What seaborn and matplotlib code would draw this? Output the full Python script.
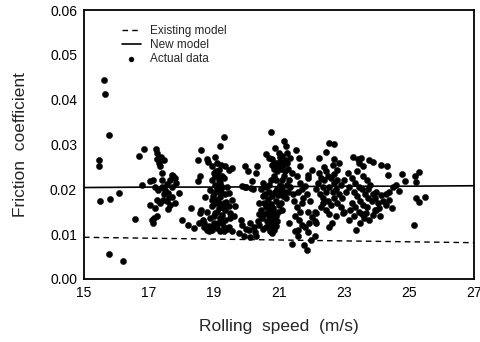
import matplotlib
matplotlib.use("Agg")
import matplotlib.pyplot as plt
import seaborn as sns
import pandas as pd

# ---- model lines ----
model_speed = [15, 17, 19, 21, 23, 25, 27]
existing_model = [0.0093, 0.0091, 0.0089, 0.0087, 0.0085, 0.0083, 0.0081]
new_model = [0.0204, 0.0205, 0.0205, 0.0206, 0.0207, 0.0207, 0.0208]

# ---- actual data (speed m/s, friction coefficient) ----
pts_a = [(15.62,0.0444),(15.64,0.0413),(15.76,0.0322),(15.46,0.0266),(15.45,0.0251),(15.49,0.0175),
         (15.79,0.0178),(16.07,0.0192),(15.76,0.0056),(16.19,0.0041),(16.57,0.0134),(16.68,0.0275),
         (16.85,0.0289),(16.77,0.0210)]
pts_b = [(17.23,0.0290),(17.26,0.0280),(17.26,0.0267),(17.30,0.0258),(17.34,0.0251),(17.39,0.0236),
         (17.41,0.0221),(17.03,0.0218),(17.13,0.0221),(17.19,0.0206),(17.29,0.0199),(17.39,0.0206),
         (17.49,0.0199),(17.60,0.0192),(17.65,0.0221),(17.70,0.0232),(17.75,0.0229),(17.70,0.0184),
         (17.03,0.0166),(17.19,0.0158),(17.24,0.0177),(17.34,0.0169),(17.44,0.0177),(17.55,0.0173),
         (17.65,0.0166),(17.08,0.0132),(17.13,0.0125),(17.26,0.0140),(17.58,0.0156),(17.80,0.0169),
         (17.91,0.0192),(18.01,0.0132),(18.21,0.0121),(18.30,0.0158),(18.38,0.0114),(17.47,0.0266),
         (17.70,0.0206),(17.36,0.0272),(17.80,0.0225),(17.82,0.0215),(17.55,0.0212),(17.45,0.0190),
         (17.15,0.0135),(17.62,0.0182)]
pts_c = [(18.50,0.0218),(18.58,0.0230),(18.61,0.0288),(18.50,0.0266),(18.78,0.0267),(18.83,0.0262),
         (18.73,0.0184),(18.61,0.0154),(18.65,0.0132),(18.53,0.0125),(18.68,0.0117),(18.78,0.0110),
         (18.58,0.0147),(18.94,0.0251),(18.99,0.0236),(19.04,0.0273),(19.09,0.0258),(19.14,0.0244),
         (18.94,0.0221),(19.04,0.0210),(19.14,0.0221),(19.25,0.0206),(18.89,0.0199),(18.99,0.0192),
         (19.09,0.0177),(19.20,0.0184),(19.30,0.0169),(18.94,0.0162),(19.04,0.0147),(19.14,0.0158),
         (19.25,0.0143),(19.35,0.0154),(18.89,0.0136),(18.99,0.0125),(19.09,0.0114),(19.20,0.0106),
         (18.94,0.0110),(19.30,0.0117),(18.84,0.0106),(19.35,0.0251),(19.45,0.0244),(19.56,0.0247),
         (19.20,0.0296),(19.32,0.0316),(19.40,0.0206),(19.45,0.0192),(19.56,0.0177),(19.66,0.0162),
         (19.50,0.0147),(19.35,0.0132),(19.45,0.0117),(19.14,0.0195),(19.04,0.0169),(18.94,0.0177),
         (19.25,0.0229),(19.02,0.0229),(19.45,0.0162),(19.61,0.0140),(19.56,0.0106),(19.05,0.0240),
         (19.12,0.0232),(19.18,0.0215),(19.08,0.0200),(19.22,0.0195),(19.15,0.0170),(19.28,0.0160),
         (19.10,0.0150),(19.20,0.0135),(19.00,0.0140),(19.12,0.0125),(19.25,0.0125),(19.05,0.0118),
         (19.30,0.0108),(18.98,0.0185),(19.35,0.0190),(18.80,0.0150),(18.70,0.0125),(18.85,0.0118),
         (19.40,0.0112),(18.92,0.0113),(19.22,0.0255),(19.30,0.0225),(19.38,0.0172),(19.48,0.0135)]
pts_gap = [(19.95,0.0251),(20.00,0.0206),(20.16,0.0218),(19.82,0.0132),(19.76,0.0102),(19.92,0.0095),
           (20.12,0.0094),(20.07,0.0110),(20.23,0.0117),(20.33,0.0251),(20.30,0.0236),(20.05,0.0240),
           (19.85,0.0120),(20.20,0.0200),(20.25,0.0105),(20.35,0.0130),(20.40,0.0145),(20.10,0.0125),
           (19.98,0.0112),(20.30,0.0095),(19.85,0.0208),(19.95,0.0205),(20.15,0.0204)]
pts_d = [(20.76,0.0327),(21.15,0.0307),(21.22,0.0296),(20.89,0.0292),(21.00,0.0280),(20.59,0.0278),
         (20.69,0.0270),(20.79,0.0267),(20.89,0.0258),(20.94,0.0251),(21.04,0.0273),(21.15,0.0266),
         (21.25,0.0258),(21.35,0.0270),(21.51,0.0288),(21.61,0.0270),(21.66,0.0251),(21.56,0.0229),
         (21.40,0.0236),(20.45,0.0200),(20.50,0.0185),(20.55,0.0170),(20.60,0.0160),(20.65,0.0150),
         (20.70,0.0140),(20.75,0.0130),(20.80,0.0120),(20.85,0.0110),(20.50,0.0215),(20.60,0.0205),
         (20.70,0.0195),(20.80,0.0185),(20.90,0.0175),(21.00,0.0165),(21.10,0.0155),(20.55,0.0145),
         (20.62,0.0130),(20.68,0.0118),(20.72,0.0108),(20.78,0.0102),(20.85,0.0125),(20.92,0.0140),
         (20.98,0.0150),(21.05,0.0170),(21.12,0.0185),(21.18,0.0195),(21.25,0.0210),(21.30,0.0220),
         (20.40,0.0170),(20.45,0.0155),(20.48,0.0135),(20.40,0.0120),(20.52,0.0112),(20.58,0.0190),
         (20.65,0.0178),(20.75,0.0168),(20.82,0.0158),(20.88,0.0148),(20.95,0.0200),(21.02,0.0210),
         (21.08,0.0220),(21.15,0.0230),(21.20,0.0240),(20.68,0.0210),(20.75,0.0220),(20.85,0.0230),
         (20.92,0.0220),(20.98,0.0188),(21.05,0.0195),(20.72,0.0155),(20.63,0.0165),(20.78,0.0145),
         (20.88,0.0195),(21.10,0.0205),(21.22,0.0180),(21.28,0.0195),(21.35,0.0205),(20.95,0.0130),
         (20.85,0.0135),(20.70,0.0125),(20.60,0.0115),(20.80,0.0110),(20.90,0.0118),(20.85,0.0245),
         (20.95,0.0240),(21.05,0.0245),(21.12,0.0255),(21.20,0.0265),(20.80,0.0255),(21.00,0.0260),
         (21.10,0.0275),(21.28,0.0245),(21.25,0.0280)]
pts_d2 = [(21.41,0.0079),(21.85,0.0065),(21.78,0.0076),(21.58,0.0095),(21.48,0.0106),(21.32,0.0125),
          (21.50,0.0140),(21.62,0.0132),(21.93,0.0125),(22.03,0.0139),(22.10,0.0150),(21.98,0.0088),
          (21.55,0.0160),(21.70,0.0170),(21.65,0.0150),(21.80,0.0115),(21.75,0.0180),(21.88,0.0150),
          (21.45,0.0175),(21.42,0.0190),(21.60,0.0195),(21.70,0.0200),(21.85,0.0190),(21.95,0.0175),
          (22.10,0.0095),(22.15,0.0125),(21.90,0.0105),(21.70,0.0120),(21.60,0.0110),(21.65,0.0215),
          (21.90,0.0225),(21.80,0.0208)]
pts_e = [(22.55,0.0303),(22.68,0.0301),(22.44,0.0284),(22.24,0.0270),(22.70,0.0267),(22.03,0.0244),
         (21.88,0.0232),(22.24,0.0236),(22.45,0.0240),(22.65,0.0255),(22.86,0.0258),(22.80,0.0244),
         (23.27,0.0273),(23.42,0.0267),(23.53,0.0270),(23.47,0.0258),(23.58,0.0251),(23.78,0.0266),
         (23.89,0.0262),(23.11,0.0236),(23.16,0.0206),(23.16,0.0132),(23.37,0.0110),(22.96,0.0147),
         (22.75,0.0140),(22.55,0.0117),(22.62,0.0125),(22.34,0.0169),(22.13,0.0147),(22.10,0.0130),
         (23.68,0.0147),(23.89,0.0143),(23.78,0.0132),(24.00,0.0154),(22.20,0.0215),(22.30,0.0225),
         (22.40,0.0220),(22.50,0.0230),(22.60,0.0225),(22.70,0.0215),(22.80,0.0220),(22.90,0.0210),
         (22.35,0.0205),(22.45,0.0195),(22.55,0.0205),(22.65,0.0195),(22.75,0.0200),(22.85,0.0190),
         (22.25,0.0190),(22.35,0.0180),(22.50,0.0175),(22.60,0.0165),(22.70,0.0180),(22.80,0.0170),
         (22.95,0.0180),(23.05,0.0195),(23.00,0.0220),(22.15,0.0200),(22.30,0.0160),(22.45,0.0155),
         (22.90,0.0160),(23.00,0.0150),(22.55,0.0145),(22.68,0.0235),(22.40,0.0250),(23.25,0.0225),
         (23.35,0.0215),(23.45,0.0205),(23.55,0.0200),(23.65,0.0190),(23.75,0.0180),(23.85,0.0175),
         (23.30,0.0195),(23.40,0.0185),(23.50,0.0175),(23.60,0.0165),(23.70,0.0160),(23.25,0.0170),
         (23.35,0.0160),(23.45,0.0150),(23.55,0.0145),(23.40,0.0240),(23.60,0.0230),(23.70,0.0220),
         (23.80,0.0210),(23.20,0.0155),(23.30,0.0140),(23.50,0.0125),(23.62,0.0135),(23.75,0.0200),
         (23.90,0.0190)]
pts_f = [(24.15,0.0255),(24.32,0.0251),(24.36,0.0232),(24.80,0.0234),(24.87,0.0219),(25.18,0.0229),
         (25.23,0.0217),(25.31,0.0238),(25.21,0.0180),(25.31,0.0171),(25.49,0.0184),(25.15,0.0121),
         (24.15,0.0188),(24.28,0.0190),(24.40,0.0193),(24.50,0.0206),(24.59,0.0210),(24.69,0.0197),
         (24.20,0.0173),(24.09,0.0159),(24.40,0.0177),(24.49,0.0158),(24.30,0.0165),(23.95,0.0180),
         (24.05,0.0170),(24.00,0.0195),(24.10,0.0140),(23.95,0.0155)]

all_pts = pts_a + pts_b + pts_c + pts_gap + pts_d + pts_d2 + pts_e + pts_f
data = pd.DataFrame(all_pts, columns=["speed", "friction"])

sns.set_style("white")
plt.rcParams["font.family"] = ["Liberation Sans", "DejaVu Sans"]

fig = plt.figure(figsize=(4.81, 3.42), dpi=100)
ax = fig.add_axes([84/481, 63/342, 390/481, 269/342])

sns.lineplot(x=model_speed, y=existing_model, ax=ax, color="black", lw=1.0,
             linestyle=(0, (4, 3)), label="Existing model")
sns.lineplot(x=model_speed, y=new_model, ax=ax, color="black", lw=1.2, label="New model")
sns.scatterplot(data=data, x="speed", y="friction", ax=ax, color="black", s=20,
                edgecolor="black", linewidth=0.3, label="Actual data")

ax.set_xlim(15, 27)
ax.set_ylim(0, 0.06)
ax.set_xticks([15, 17, 19, 21, 23, 25, 27])
ax.set_yticks([0.00, 0.01, 0.02, 0.03, 0.04, 0.05, 0.06])
ax.set_yticklabels(["0.00", "0.01", "0.02", "0.03", "0.04", "0.05", "0.06"])
ax.tick_params(direction="in", length=5, width=1, labelsize=10, colors="black", pad=5)
for s in ax.spines.values():
    s.set_color("black")
    s.set_linewidth(1.3)

ax.set_xlabel("Rolling  speed  (m/s)", fontsize=12.5, labelpad=14)
ax.set_ylabel("Friction  coefficient", fontsize=12.5, labelpad=16)

leg = ax.legend(loc="upper left", bbox_to_anchor=(0.07, 0.985), frameon=False, fontsize=8.5,
                handlelength=1.6, handletextpad=0.8, labelspacing=0.2, markerscale=0.8)

fig.savefig("out.png", dpi=100)
